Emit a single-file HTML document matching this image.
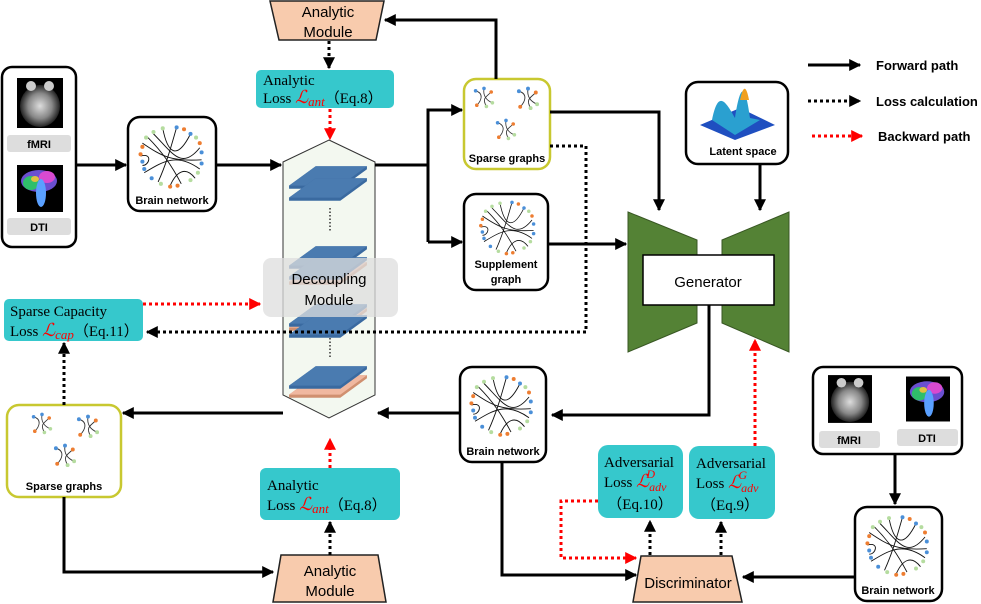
<!DOCTYPE html>
<html><head><meta charset="utf-8"><style>
body{margin:0;background:#fff}
svg{display:block}
.s{font-family:"Liberation Sans",sans-serif}
.r{font-family:"Liberation Serif",serif}
</style></head><body>
<svg width="981" height="604" viewBox="0 0 981 604" xmlns="http://www.w3.org/2000/svg">
<defs>
<marker id="ab" viewBox="0 0 10 10" refX="9" refY="5" markerWidth="4" markerHeight="4" orient="auto-start-reverse"><path d="M0,0L10,5L0,10z" fill="#000"/></marker>
<marker id="ar" viewBox="0 0 10 10" refX="9" refY="5" markerWidth="4" markerHeight="4" orient="auto-start-reverse"><path d="M0,0L10,5L0,10z" fill="#f00"/></marker>
<symbol id="bn" viewBox="0 0 80 70">
<g fill="none" stroke="#111" stroke-width="1">
<path d="M30,4 C35,30 45,40 60,10"/><path d="M20,10 C40,30 50,50 70,25"/><path d="M8,20 C30,35 40,40 72,38"/>
<path d="M6,34 C20,30 15,45 8,44"/><path d="M10,52 C30,40 45,30 70,48"/><path d="M25,62 C35,40 40,20 45,3"/>
<path d="M50,64 C40,45 30,30 14,14"/><path d="M38,66 C45,50 55,45 65,58"/>
</g>
<g fill="#4a8fd8"><circle cx="45" cy="3" r="2.2"/><circle cx="60" cy="10" r="2.2"/><circle cx="72" cy="30" r="2.2"/><circle cx="72" cy="42" r="2.2"/><circle cx="10" cy="48" r="2.2"/><circle cx="18" cy="58" r="2.2"/><circle cx="8" cy="40" r="2.2"/></g>
<g fill="#ed7d31"><circle cx="53" cy="5" r="2.2"/><circle cx="70" cy="20" r="2.2"/><circle cx="8" cy="24" r="2.2"/><circle cx="6" cy="32" r="2.2"/><circle cx="38" cy="67" r="2.2"/><circle cx="46" cy="66" r="2.2"/></g>
<g fill="#b5dc9f"><circle cx="30" cy="4" r="2.2"/><circle cx="20" cy="8" r="2.2"/><circle cx="12" cy="14" r="2.2"/><circle cx="66" cy="14" r="2.2"/><circle cx="68" cy="52" r="2.2"/><circle cx="60" cy="60" r="2.2"/><circle cx="28" cy="64" r="2.2"/></g>
</symbol>
<symbol id="sg" viewBox="0 0 20 20">
<g fill="none" stroke="#333" stroke-width="0.7"><path d="M3,4 C10,6 8,12 4,16"/><path d="M10,2 C9,8 12,12 17,14"/><path d="M16,5 C12,9 8,10 12,17"/></g>
<circle cx="3" cy="4" r="1.5" fill="#4a8fd8"/><circle cx="10" cy="2" r="1.5" fill="#4a8fd8"/><circle cx="16" cy="5" r="1.5" fill="#ed7d31"/><circle cx="4" cy="16" r="1.5" fill="#ed7d31"/><circle cx="17" cy="14" r="1.5" fill="#b5dc9f"/><circle cx="12" cy="17" r="1.5" fill="#b5dc9f"/>
</symbol>
<radialGradient id="fm"><stop offset="0" stop-color="#ddd"/><stop offset="0.6" stop-color="#888"/><stop offset="1" stop-color="#222"/></radialGradient>
<symbol id="fmri" viewBox="0 0 46 50"><rect width="46" height="50" fill="#000"/><ellipse cx="23" cy="28" rx="20" ry="21" fill="url(#fm)"/><ellipse cx="14" cy="8" rx="5" ry="5" fill="#ccc"/><ellipse cx="32" cy="8" rx="5" ry="5" fill="#ccc"/></symbol>
<symbol id="dti" viewBox="0 0 46 47"><rect width="46" height="47" fill="#000"/><ellipse cx="22" cy="16" rx="18" ry="11" fill="#6a4fd0"/><ellipse cx="14" cy="18" rx="8" ry="7" fill="#2fbf6a"/><ellipse cx="30" cy="12" rx="8" ry="6" fill="#d84ad0"/><ellipse cx="24" cy="28" rx="5" ry="14" fill="#5aa0ff"/><ellipse cx="18" cy="14" rx="4" ry="3" fill="#e0c040"/></symbol>
<symbol id="plate" viewBox="0 0 80 40"><path d="M2,27 L28,8 L78,8 L78,11 L52,30 L2,30 Z" fill="#3a6aa0"/><path d="M2,27 L28,8 L78,8 L52,27 Z" fill="#4a7bb0"/></symbol>
<symbol id="plateo" viewBox="0 0 80 40"><path d="M2,27 L28,8 L78,8 L78,11 L52,30 L2,30 Z" fill="#d09070"/><path d="M2,27 L28,8 L78,8 L52,27 Z" fill="#f0b8a0"/></symbol>
</defs>

<!-- legend -->
<line x1="808" y1="65" x2="860" y2="65" stroke="#000" stroke-width="3" marker-end="url(#ab)"/>
<text x="876" y="70" class="s" font-size="13" font-weight="bold">Forward path</text>
<line x1="808" y1="101" x2="860" y2="101" stroke="#000" stroke-width="3" stroke-dasharray="3,3" marker-end="url(#ab)"/>
<text x="876" y="106" class="s" font-size="13" font-weight="bold">Loss calculation</text>
<line x1="812" y1="136" x2="862" y2="136" stroke="#f00" stroke-width="3" stroke-dasharray="3,3" marker-end="url(#ar)"/>
<text x="878" y="141" class="s" font-size="13" font-weight="bold">Backward path</text>

<!-- top analytic module -->
<path d="M270,1 L384,1 L376,40 L279,40 Z" fill="#f8cbad" stroke="#222" stroke-width="1.5"/>
<text x="328" y="17" class="s" font-size="15" text-anchor="middle">Analytic</text>
<text x="328" y="37" class="s" font-size="15" text-anchor="middle">Module</text>
<line x1="329" y1="41" x2="329" y2="68" stroke="#000" stroke-width="3" stroke-dasharray="3,3" marker-end="url(#ab)"/>
<rect x="256" y="70" width="138" height="38" rx="5" fill="#36c8cc"/>
<text x="263" y="85" class="r" font-size="15">Analytic</text>
<text x="263" y="103" class="r" font-size="15">Loss <tspan fill="#f00" font-style="italic" font-size="18">ℒ<tspan font-size="13" dy="3">ant</tspan></tspan><tspan dy="-3">（Eq.8）</tspan></text>
<line x1="330" y1="109" x2="330" y2="139" stroke="#f00" stroke-width="3" stroke-dasharray="3,3" marker-end="url(#ar)"/>

<!-- hexagon -->
<path d="M329,140 L375,162 L375,395 L329,418 L283,395 L283,162 Z" fill="#f3f8f0" stroke="#333" stroke-width="1"/>
<use href="#plate" x="287" y="158" width="82" height="41"/>
<use href="#plate" x="287" y="170" width="82" height="41"/>
<line x1="330" y1="208" x2="330" y2="232" stroke="#333" stroke-width="1.5" stroke-dasharray="1.5,2"/>
<use href="#plate" x="287" y="238" width="82" height="41"/>
<use href="#plateo" x="287" y="254" width="82" height="41"/>
<use href="#plate" x="287" y="249" width="82" height="41"/>
<use href="#plateo" x="287" y="300" width="82" height="41"/>
<use href="#plate" x="287" y="296" width="82" height="41"/>
<use href="#plate" x="287" y="307" width="82" height="41"/>
<line x1="330" y1="338" x2="330" y2="358" stroke="#333" stroke-width="1.5" stroke-dasharray="1.5,2"/>
<use href="#plateo" x="287" y="367" width="82" height="41"/>
<use href="#plate" x="287" y="358" width="82" height="41"/>
<rect x="263" y="258" width="135" height="59" rx="8" fill="#ddd" opacity="0.75"/>
<text x="329" y="284" class="s" font-size="15" text-anchor="middle">Decoupling</text>
<text x="329" y="305" class="s" font-size="15" text-anchor="middle">Module</text>

<!-- left input box -->
<rect x="2" y="67" width="74" height="180" rx="10" fill="#fff" stroke="#000" stroke-width="2.5"/>
<use href="#fmri" x="17" y="77" width="46" height="52"/>
<rect x="7" y="135" width="64" height="17" rx="3" fill="#ddd"/>
<text x="39" y="148" class="s" font-size="11" font-weight="bold" text-anchor="middle">fMRI</text>
<use href="#dti" x="17" y="165" width="46" height="47"/>
<rect x="7" y="218" width="64" height="17" rx="3" fill="#ddd"/>
<text x="39" y="231" class="s" font-size="11" font-weight="bold" text-anchor="middle">DTI</text>
<line x1="76" y1="165" x2="126" y2="165" stroke="#000" stroke-width="3" marker-end="url(#ab)"/>

<!-- brain net 1 -->
<rect x="128" y="117" width="88" height="94" rx="12" fill="#fff" stroke="#000" stroke-width="2.5"/>
<use href="#bn" x="135" y="123" width="74" height="68"/>
<text x="172" y="204" class="s" font-size="11" font-weight="bold" text-anchor="middle">Brain network</text>
<line x1="216" y1="165" x2="281" y2="165" stroke="#000" stroke-width="3" marker-end="url(#ab)"/>

<!-- right of hex -->
<polyline points="375,165 428,165" fill="none" stroke="#000" stroke-width="3"/>
<polyline points="428,242 428,110 462,110" fill="none" stroke="#000" stroke-width="3" marker-end="url(#ab)"/>
<line x1="428" y1="242" x2="462" y2="242" stroke="#000" stroke-width="3" marker-end="url(#ab)"/>

<!-- sparse graphs top -->
<rect x="464" y="79" width="86" height="90" rx="12" fill="#fff" stroke="#c8c830" stroke-width="2.5"/>
<use href="#sg" x="472" y="86" width="24" height="24"/>
<use href="#sg" x="515" y="86" width="26" height="26"/>
<use href="#sg" x="494" y="118" width="24" height="24"/>
<text x="507" y="162" class="s" font-size="11" font-weight="bold" text-anchor="middle">Sparse graphs</text>
<polyline points="496,79 496,20 385,20" fill="none" stroke="#000" stroke-width="3" marker-end="url(#ab)"/>
<polyline points="550,112 659,112 659,210" fill="none" stroke="#000" stroke-width="3" marker-end="url(#ab)"/>
<polyline points="550,146 586,146 586,332 147,332" fill="none" stroke="#000" stroke-width="3" stroke-dasharray="3,3" marker-end="url(#ab)"/>

<!-- supplement -->
<rect x="464" y="194" width="84" height="96" rx="12" fill="#fff" stroke="#000" stroke-width="2.5"/>
<use href="#bn" x="476" y="198" width="64" height="60"/>
<text x="506" y="268" class="s" font-size="11" font-weight="bold" text-anchor="middle">Supplement</text>
<text x="506" y="283" class="s" font-size="11" font-weight="bold" text-anchor="middle">graph</text>
<line x1="548" y1="244" x2="626" y2="244" stroke="#000" stroke-width="3" marker-end="url(#ab)"/>

<!-- latent -->
<rect x="686" y="82" width="102" height="82" rx="12" fill="#fff" stroke="#000" stroke-width="2.5"/>
<path d="M700,125 L740,108 L775,125 L735,140 Z" fill="#1f4fc0"/>
<path d="M712,120 C718,90 725,100 735,118 C740,85 745,80 750,118 L760,120 L735,135 Z" fill="#2aa0d0"/>
<path d="M740,100 C743,86 746,84 749,100 Z" fill="#f0a020"/>
<text x="743" y="155" class="s" font-size="11" font-weight="bold" text-anchor="middle">Latent space</text>
<line x1="760" y1="164" x2="760" y2="210" stroke="#000" stroke-width="3" marker-end="url(#ab)"/>

<!-- generator -->
<path d="M628,212 L697,240 L697,323 L628,352 Z" fill="#548235" stroke="#385723"/>
<path d="M789,212 L722,240 L722,323 L789,352 Z" fill="#548235" stroke="#385723"/>
<rect x="643" y="255" width="131" height="50" fill="#fff" stroke="#000" stroke-width="1.5"/>
<text x="708" y="287" class="s" font-size="15" text-anchor="middle">Generator</text>
<polyline points="709,305 709,415 552,415" fill="none" stroke="#000" stroke-width="3" marker-end="url(#ab)"/>
<line x1="755" y1="446" x2="755" y2="340" stroke="#f00" stroke-width="3" stroke-dasharray="3,3" marker-end="url(#ar)"/>

<!-- sparse capacity -->
<rect x="4" y="299" width="139" height="42" rx="5" fill="#36c8cc"/>
<text x="10" y="316" class="r" font-size="15">Sparse Capacity</text>
<text x="10" y="336" class="r" font-size="15">Loss <tspan fill="#f00" font-style="italic" font-size="18">ℒ<tspan font-size="13" dy="3">cap</tspan></tspan><tspan dy="-3">（Eq.11）</tspan></text>
<line x1="143" y1="304" x2="260" y2="304" stroke="#f00" stroke-width="3" stroke-dasharray="3,3" marker-end="url(#ar)"/>

<!-- middle brain net -->
<rect x="460" y="367" width="86" height="95" rx="12" fill="#fff" stroke="#000" stroke-width="2.5"/>
<use href="#bn" x="466" y="373" width="72" height="66"/>
<text x="503" y="455" class="s" font-size="11" font-weight="bold" text-anchor="middle">Brain network</text>
<line x1="460" y1="413" x2="378" y2="413" stroke="#000" stroke-width="3" marker-end="url(#ab)"/>
<line x1="283" y1="413" x2="123" y2="413" stroke="#000" stroke-width="3" marker-end="url(#ab)"/>
<polyline points="502,462 502,575 636,575" fill="none" stroke="#000" stroke-width="3" marker-end="url(#ab)"/>

<!-- left sparse graphs -->
<rect x="7" y="405" width="114" height="92" rx="12" fill="#fff" stroke="#c8c830" stroke-width="2.5"/>
<use href="#sg" x="30" y="412" width="24" height="24"/>
<use href="#sg" x="75" y="414" width="26" height="26"/>
<use href="#sg" x="52" y="443" width="26" height="26"/>
<text x="64" y="490" class="s" font-size="11" font-weight="bold" text-anchor="middle">Sparse graphs</text>
<line x1="64" y1="405" x2="64" y2="343" stroke="#000" stroke-width="3" stroke-dasharray="3,3" marker-end="url(#ab)"/>
<polyline points="64,497 64,572 273,572" fill="none" stroke="#000" stroke-width="3" marker-end="url(#ab)"/>

<!-- bottom analytic -->
<rect x="260" y="468" width="140" height="52" rx="6" fill="#36c8cc"/>
<text x="267" y="490" class="r" font-size="15">Analytic</text>
<text x="267" y="510" class="r" font-size="15">Loss <tspan fill="#f00" font-style="italic" font-size="18">ℒ<tspan font-size="13" dy="3">ant</tspan></tspan><tspan dy="-3">（Eq.8）</tspan></text>
<line x1="330" y1="468" x2="330" y2="439" stroke="#f00" stroke-width="3" stroke-dasharray="3,3" marker-end="url(#ar)"/>
<path d="M281,555 L378,555 L386,602 L273,602 Z" fill="#f8cbad" stroke="#222" stroke-width="1.5"/>
<text x="330" y="576" class="s" font-size="15" text-anchor="middle">Analytic</text>
<text x="330" y="596" class="s" font-size="15" text-anchor="middle">Module</text>
<line x1="330" y1="555" x2="330" y2="522" stroke="#000" stroke-width="3" stroke-dasharray="3,3" marker-end="url(#ab)"/>

<!-- adversarial -->
<rect x="598" y="445" width="85" height="73" rx="10" fill="#36c8cc"/>
<text x="604" y="467" class="r" font-size="15">Adversarial</text>
<text x="604" y="487" class="r" font-size="15">Loss <tspan fill="#f00" font-style="italic" font-size="18">ℒ<tspan font-size="12" dy="4">adv</tspan><tspan font-size="12" dx="-20" dy="-13">D</tspan></tspan></text>
<text x="640" y="509" class="r" font-size="15" text-anchor="middle">（Eq.10）</text>
<rect x="689" y="446" width="86" height="73" rx="10" fill="#36c8cc"/>
<text x="696" y="468" class="r" font-size="15">Adversarial</text>
<text x="696" y="488" class="r" font-size="15">Loss <tspan fill="#f00" font-style="italic" font-size="18">ℒ<tspan font-size="12" dy="4">adv</tspan><tspan font-size="12" dx="-20" dy="-13">G</tspan></tspan></text>
<text x="730" y="510" class="r" font-size="15" text-anchor="middle">（Eq.9）</text>
<polyline points="598,501 561,501 561,558 636,558" fill="none" stroke="#f00" stroke-width="3" stroke-dasharray="3,3" marker-end="url(#ar)"/>
<line x1="650" y1="555" x2="650" y2="521" stroke="#000" stroke-width="3" stroke-dasharray="3,3" marker-end="url(#ab)"/>
<line x1="721" y1="555" x2="721" y2="522" stroke="#000" stroke-width="3" stroke-dasharray="3,3" marker-end="url(#ab)"/>

<!-- discriminator -->
<path d="M641,556 L732,556 L742,602 L633,602 Z" fill="#f8cbad" stroke="#222" stroke-width="1.5"/>
<text x="688" y="588" class="s" font-size="15" text-anchor="middle">Discriminator</text>

<!-- right input -->
<rect x="813" y="367" width="149" height="87" rx="10" fill="#fff" stroke="#000" stroke-width="2.5"/>
<use href="#fmri" x="828" y="373" width="44" height="52"/>
<rect x="819" y="431" width="61" height="17" rx="3" fill="#ddd"/>
<text x="849" y="444" class="s" font-size="11" font-weight="bold" text-anchor="middle">fMRI</text>
<use href="#dti" x="906" y="376" width="44" height="46"/>
<rect x="897" y="429" width="61" height="17" rx="3" fill="#ddd"/>
<text x="927" y="442" class="s" font-size="11" font-weight="bold" text-anchor="middle">DTI</text>
<line x1="895" y1="454" x2="895" y2="504" stroke="#000" stroke-width="3" marker-end="url(#ab)"/>
<rect x="855" y="507" width="87" height="94" rx="12" fill="#fff" stroke="#000" stroke-width="2.5"/>
<use href="#bn" x="862" y="513" width="72" height="66"/>
<text x="898" y="594" class="s" font-size="11" font-weight="bold" text-anchor="middle">Brain network</text>
<line x1="855" y1="577" x2="743" y2="577" stroke="#000" stroke-width="3" marker-end="url(#ab)"/>
</svg>
</body></html>
